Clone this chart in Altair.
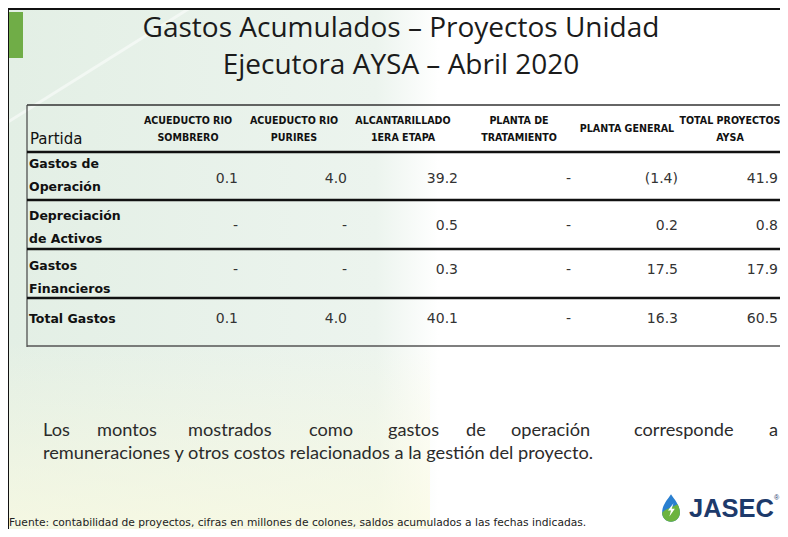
import altair as alt
import pandas as pd

# ---------------- data ----------------
title_lines = ["Gastos Acumulados – Proyectos Unidad", "Ejecutora AYSA – Abril 2020"]
first_header = "Partida"
columns = ["ACUEDUCTO RIO\nSOMBRERO", "ACUEDUCTO RIO\nPURIRES", "ALCANTARILLADO\n1ERA ETAPA",
           "PLANTA DE\nTRATAMIENTO", "PLANTA GENERAL", "TOTAL PROYECTOS\nAYSA"]
partidas = ["Gastos de\nOperación", "Depreciación\nde Activos", "Gastos\nFinancieros", "Total Gastos"]
gastos_operacion = [0.1, 4.0, 39.2, None, -1.4, 41.9]
depreciacion_activos = [None, None, 0.5, None, 0.2, 0.8]
gastos_financieros = [None, None, 0.3, None, 17.5, 17.9]
total_gastos = [0.1, 4.0, 40.1, None, 16.3, 60.5]
rows_values = [gastos_operacion, depreciacion_activos, gastos_financieros, total_gastos]
nota_line1_words = ["Los", "montos", "mostrados", "como", "gastos", "de", "operación", "corresponde", "a"]
nota_line2 = "remuneraciones y otros costos relacionados a la gestión del proyecto."
fuente = ("Fuente: contabilidad de proyectos, cifras en millones de colones, "
          "saldos acumulados a las fechas indicadas.")
marca = "JASEC"

# ---------------- layout (reference pixel coordinates) ----------------
col_center = [188, 294, 403, 519, 627, 730]
col_right = [238, 347, 458, 571, 678, 778]
header_center_y = 129
row_label_y = [175, 227.5, 277, 319]
row_value_y = [179, 226, 270, 319]
word_x = [43, 97, 188, 309, 388, 466, 511, 634, 769]
HDR_LH = 17
LAB_LH = 23

XS = alt.Scale(domain=[8, 780], nice=False, zero=False)
YS = alt.Scale(domain=[8, 529], nice=False, zero=False, reverse=True)


def X(f="x"):
    return alt.X(f"{f}:Q", scale=XS, axis=None)


def Y(f="y"):
    return alt.Y(f"{f}:Q", scale=YS, axis=None)


def fmt(v):
    if v is None:
        return "-"
    if v < 0:
        return f"({-v:.1f})"
    return f"{v:.1f}"


def first_line_y(text, center, lh):
    n = text.count("\n") + 1
    return center - (n - 1) * lh / 2


# background gradient
bg = pd.DataFrame({"x": [9], "x2": [790], "y": [10], "y2": [540]})
bg_layer = alt.Chart(bg).mark_rect(
    color=alt.LinearGradient(
        gradient="linear", x1=0, x2=1, y1=0, y2=0,
        stops=[alt.GradientStop(color="#e3efe5", offset=0),
               alt.GradientStop(color="#ecf4ee", offset=0.47),
               alt.GradientStop(color="#ffffff", offset=0.55),
               alt.GradientStop(color="#ffffff", offset=1)])
).encode(x=X(), x2="x2:Q", y=Y(), y2="y2:Q")

bg2 = pd.DataFrame({"x": [9], "x2": [430], "y": [340], "y2": [540]})
bg2_layer = alt.Chart(bg2).mark_rect(
    color=alt.LinearGradient(
        gradient="linear", x1=0, x2=0, y1=0, y2=1,
        stops=[alt.GradientStop(color="rgba(250,250,225,0)", offset=0),
               alt.GradientStop(color="rgba(250,250,225,0.8)", offset=1)])
).encode(x=X(), x2="x2:Q", y=Y(), y2="y2:Q")

streak = pd.DataFrame({"x": [8], "x2": [190], "y": [122], "y2": [8]})
streak_layer = alt.Chart(streak).mark_rule(color="white", strokeWidth=3, opacity=0.5).encode(
    x=X(), x2="x2:Q", y=Y(), y2="y2:Q")

# green accent bar
accent = pd.DataFrame({"x": [9], "x2": [23], "y": [12], "y2": [58]})
accent_layer = alt.Chart(accent).mark_rect(color="#70ad47").encode(x=X(), x2="x2:Q", y=Y(), y2="y2:Q")

# rules: slide border + table lines
rules = pd.DataFrame({
    "x":  [8, 8, 27, 27, 27, 27, 27, 27, 27],
    "x2": [800, 8, 800, 27, 800, 800, 800, 800, 800],
    "y":  [9, 9, 105, 105, 152, 200, 249, 298, 346],
    "y2": [9, 540, 105, 347, 152, 200, 249, 298, 346],
    "w":  [2, 2, 1.5, 1.2, 2.5, 2.5, 2.5, 2.5, 1.5],
    "c":  ["#111", "#111", "#333", "#444", "#111", "#111", "#111", "#111", "#555"],
})
rule_layer = alt.Chart(rules).mark_rule().encode(
    x=X(), x2="x2:Q", y=Y(), y2="y2:Q",
    strokeWidth=alt.StrokeWidth("w:Q", scale=None),
    color=alt.Color("c:N", scale=None))

# title
title_df = pd.DataFrame({"t": title_lines, "x": [401, 401], "y": [29, 66]})
title_layer = alt.Chart(title_df).mark_text(font="Open Sans", fontSize=28, color="#1b1b1b", align="center",
                                            baseline="middle").encode(x=X(), y=Y(), text="t:N")

# headers
hdr = pd.DataFrame({"t": columns, "x": col_center,
                    "y": [first_line_y(c, header_center_y, HDR_LH) for c in columns]})
hdr_layer = alt.Chart(hdr).mark_text(font="DejaVu Sans Condensed", fontWeight="bold", fontSize=10.6,
                                     color="#111", align="center", baseline="middle", lineBreak="\n",
                                     lineHeight=HDR_LH).encode(x=X(), y=Y(), text="t:N")
part_df = pd.DataFrame({"t": [first_header], "x": [30], "y": [139]})
part_layer = alt.Chart(part_df).mark_text(font="DejaVu Sans", fontSize=15, color="#111", align="left",
                                          baseline="middle").encode(x=X(), y=Y(), text="t:N")

# row labels
lab = pd.DataFrame({"t": partidas, "x": [29] * 4,
                    "y": [first_line_y(p, cy, LAB_LH) for p, cy in zip(partidas, row_label_y)]})
lab_layer = alt.Chart(lab).mark_text(font="DejaVu Sans", fontWeight="bold", fontSize=12.5, color="#111",
                                     align="left", baseline="middle", lineBreak="\n",
                                     lineHeight=LAB_LH).encode(x=X(), y=Y(), text="t:N")

# values
recs = []
for ri, vals in enumerate(rows_values):
    for ci, v in enumerate(vals):
        recs.append({"t": fmt(v), "x": col_right[ci], "y": row_value_y[ri]})
val_df = pd.DataFrame(recs)
val_layer = alt.Chart(val_df).mark_text(font="DejaVu Sans", fontSize=14, color="#333", align="right",
                                        baseline="middle").encode(x=X(), y=Y(), text="t:N")

# note
note_recs = [{"t": w, "x": x, "y": 431} for w, x in zip(nota_line1_words, word_x)]
note_recs.append({"t": nota_line2, "x": 43, "y": 454})
note_df = pd.DataFrame(note_recs)
note_layer = alt.Chart(note_df).mark_text(font="Lato", fontSize=18.2, color="#2b2b2b", align="left",
                                          baseline="middle").encode(x=X(), y=Y(), text="t:N")

# footer
foot_df = pd.DataFrame({"t": [fuente], "x": [9], "y": [523]})
foot_layer = alt.Chart(foot_df).mark_text(font="DejaVu Sans", fontSize=10.7, color="#222", align="left",
                                          baseline="middle").encode(x=X(), y=Y(), text="t:N")

# logo
logo_df = pd.DataFrame({"t": [marca], "x": [689], "y": [509]})
logo_layer = alt.Chart(logo_df).mark_text(font="Liberation Sans", fontWeight="bold", fontSize=25.5,
                                          color="#1d3a6b", align="left", baseline="middle").encode(
    x=X(), y=Y(), text="t:N")
reg_df = pd.DataFrame({"t": ["®"], "x": [774], "y": [498]})
reg_layer = alt.Chart(reg_df).mark_text(font="Liberation Sans", fontSize=7, color="#1d3a6b",
                                        align="left", baseline="middle").encode(x=X(), y=Y(), text="t:N")

drop_pos = pd.DataFrame({"x": [671], "y": [508]})
drop_path = "M0,-1 C0.35,-0.5 0.65,-0.15 0.65,0.35 A0.65,0.65 0 1,1 -0.65,0.35 C-0.65,-0.15 -0.35,-0.5 0,-1 Z"
leaf_path = "M-0.65,0.35 A0.65,0.65 0 0,0 0.65,0.35 C0.65,0.1 0.58,-0.1 0.48,-0.28 C0.1,-0.05 -0.4,0.05 -0.65,0.35 Z"
bolt_path = "M0.18,-0.35 L-0.22,0.18 L0.0,0.18 L-0.12,0.62 L0.28,0.05 L0.05,0.05 Z"
drop_layer = alt.Chart(drop_pos).mark_point(shape=drop_path, filled=True, size=750, color="#2a7fd0",
                                            strokeWidth=0, opacity=1).encode(x=X(), y=Y())
leaf_layer = alt.Chart(drop_pos).mark_point(shape=leaf_path, filled=True, size=750, color="#6cb33f",
                                            strokeWidth=0, opacity=1).encode(x=X(), y=Y())
bolt_layer = alt.Chart(drop_pos).mark_point(shape=bolt_path, filled=True, size=750, color="white",
                                            strokeWidth=0, opacity=1).encode(x=X(), y=Y())

chart = alt.layer(
    bg_layer, bg2_layer, streak_layer, accent_layer, rule_layer, title_layer, hdr_layer, part_layer,
    lab_layer, val_layer, note_layer, foot_layer, drop_layer, leaf_layer, bolt_layer, logo_layer, reg_layer
).properties(width=772, height=521, padding=0, autosize="none", background="white").configure_view(
    stroke=None)

chart.save("out.html", embed_options={"renderer": "svg", "actions": False})
